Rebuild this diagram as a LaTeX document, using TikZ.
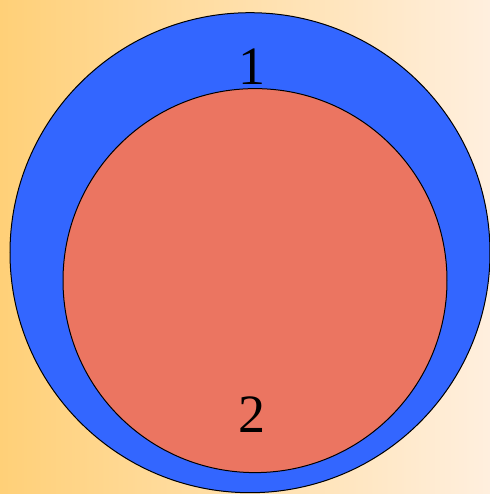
\documentclass[tikz,border=0pt]{standalone}
\usepackage{fontspec}
\setmainfont{Liberation Serif}
\definecolor{bgleft}{RGB}{255,208,120}
\definecolor{bgright}{RGB}{255,239,222}
\definecolor{ringblue}{RGB}{51,102,255}
\definecolor{coresalmon}{RGB}{235,117,97}

\begin{document}
\begin{tikzpicture}[
  x=0.5pt, y=-0.5pt,
  disc/.style={circle, draw=black, line width=0.5pt, inner sep=0pt, outer sep=0pt},
  num/.style={font=\fontsize{27}{30}\selectfont, anchor=base, inner sep=0pt}
]
\shade[left color=bgleft, right color=bgright] (0,0) rectangle (490,494);
\useasboundingbox (0,0) rectangle (490,494);
\node[disc, fill=ringblue, minimum size=240pt] (outer) at (250,252.7) {};
\node[disc, fill=coresalmon, minimum size=192pt] (inner) at (255,280.6) {};
\node[num] (one) at (252,84) {1};
\node[num] (two) at (252,432.3) {2};
\end{tikzpicture}
\end{document}
